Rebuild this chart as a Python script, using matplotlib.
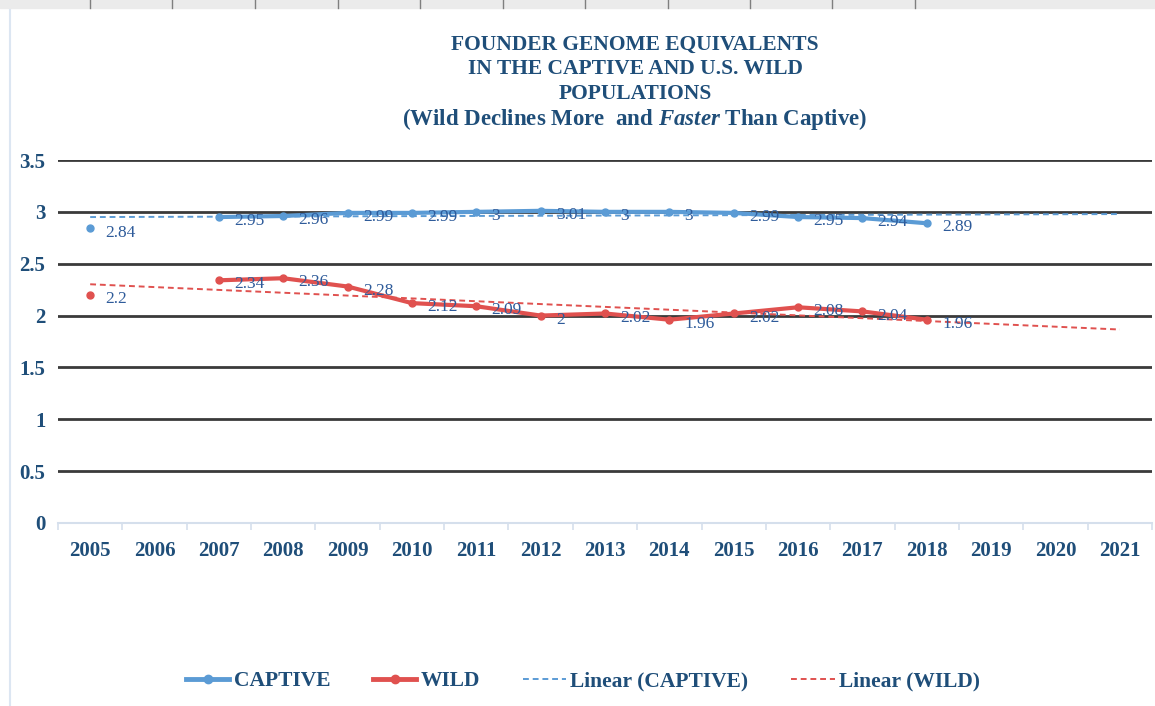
import numpy as np
import matplotlib
matplotlib.use('Agg')
import matplotlib.pyplot as plt
from matplotlib.patches import Rectangle
from matplotlib.lines import Line2D

# data
years = ['2005', '2006', '2007', '2008', '2009', '2010', '2011', '2012', '2013',
         '2014', '2015', '2016', '2017', '2018', '2019', '2020', '2021']
captive = [2.84, np.nan, 2.95, 2.96, 2.99, 2.99, 3, 3.01, 3, 3, 2.99, 2.95, 2.94, 2.89,
           np.nan, np.nan, np.nan]
wild = [2.2, np.nan, 2.34, 2.36, 2.28, 2.12, 2.09, 2, 2.02, 1.96, 2.02, 2.08, 2.04, 1.96,
        np.nan, np.nan, np.nan]
captive_labels = ['2.84', '', '2.95', '2.96', '2.99', '2.99', '3', '3.01', '3', '3', '2.99',
                  '2.95', '2.94', '2.89']
wild_labels = ['2.2', '', '2.34', '2.36', '2.28', '2.12', '2.09', '2', '2.02', '1.96',
               '2.02', '2.08', '2.04', '1.96']

blue = '#5B9BD5'
red = '#E0514F'
txt = '#1F4E79'
lab = '#2E5B9A'
serif = ['Liberation Serif', 'DejaVu Serif']

plt.rcParams['mathtext.fontset'] = 'custom'
plt.rcParams['mathtext.rm'] = 'Liberation Serif:bold'
plt.rcParams['mathtext.it'] = 'Liberation Serif:italic:bold'
plt.rcParams['mathtext.bf'] = 'Liberation Serif:bold'

fig = plt.figure(figsize=(11.55, 7.06), dpi=100)
ax = fig.add_axes([58 / 1155, 1 - 523 / 706, 1094 / 1155, 363 / 706])

x = np.arange(len(years))
cap = np.array(captive)
wld = np.array(wild)

# Excel-style linear trendlines over the full category range
for arr, col in [(cap, blue), (wld, red)]:
    ok = ~np.isnan(arr)
    k, b = np.polyfit(x[ok], arr[ok], 1)
    ax.plot(x, k * x + b, ls=(0, (3, 2)), color=col, lw=1.4, zorder=3)

# series (2006 missing, so the first point stands alone)
ax.plot(x, cap, color=blue, lw=3, marker='o', ms=5, zorder=4)
ax.plot(x, wld, color=red, lw=3, marker='o', ms=5, zorder=4)

for i, s in enumerate(captive_labels):
    if s:
        ax.annotate(s, (x[i], cap[i]), xytext=(11, -3), textcoords='offset points',
                    ha='left', va='center', fontsize=12.5, color=lab, family=serif, zorder=5)
for i, s in enumerate(wild_labels):
    if s:
        ax.annotate(s, (x[i], wld[i]), xytext=(11, -3), textcoords='offset points',
                    ha='left', va='center', fontsize=12.5, color=lab, family=serif, zorder=5)

ax.set_xlim(-0.5, 16.5)
ax.set_ylim(0, 3.5)
ax.set_yticks(np.arange(0, 3.51, 0.5))
ax.set_yticklabels(['0', '0.5', '1', '1.5', '2', '2.5', '3', '3.5'])
ax.set_xticks(x)
ax.set_xticklabels(years)
ax.set_xticks(np.arange(-0.5, 17, 1), minor=True)
for t in ax.get_yticklabels() + ax.get_xticklabels():
    t.set_family(serif)
    t.set_fontweight('bold')
    t.set_color(txt)
    t.set_fontsize(15)
ax.tick_params(axis='y', length=0, pad=9)
ax.tick_params(axis='x', which='major', length=0, pad=13)
ax.tick_params(axis='x', which='minor', length=5, color='#D5DFEC', width=1.2)
ax.grid(axis='y', color='#3A3A3A', lw=2)
for g in ax.get_ygridlines()[:1]:
    g.set_visible(False)
ax.set_axisbelow(True)
for sp in ['top', 'right', 'left']:
    ax.spines[sp].set_visible(False)
ax.spines['bottom'].set_color('#D5DFEC')
ax.spines['bottom'].set_linewidth(1.5)

# title
title = [(45, 'FOUNDER GENOME EQUIVALENTS'), (69, 'IN THE CAPTIVE AND U.S. WILD'),
         (94, 'POPULATIONS')]
for yy, s in title:
    fig.text(635 / 1155, 1 - yy / 706, s, ha='center', va='center', fontsize=15.5,
             fontweight='bold', color=txt, family=serif)
fig.text(635 / 1155, 1 - 119 / 706,
         r'(Wild Declines More  and $\mathit{Faster}$ Than Captive)',
         ha='center', va='center', fontsize=16.5, fontweight='bold', color=txt,
         family=serif, math_fontfamily='custom')

# legend
handles = [Line2D([], [], color=blue, lw=3.5, marker='o', ms=6),
           Line2D([], [], color=red, lw=3.5, marker='o', ms=6),
           Line2D([], [], color=blue, lw=1.4, ls=(0, (3, 2))),
           Line2D([], [], color=red, lw=1.4, ls=(0, (3, 2)))]
leg = fig.legend(handles, ['CAPTIVE', 'WILD', 'Linear (CAPTIVE)', 'Linear (WILD)'],
                 loc='center', bbox_to_anchor=(583 / 1155, 1 - 681 / 706), ncol=4,
                 frameon=False, handlelength=2.0, handletextpad=0.2, columnspacing=2.0,
                 prop={'size': 15.5})
for t in leg.get_texts():
    t.set_color(txt)
    t.set_family(serif)
    t.set_fontweight('bold')

# window frame bits
fig.patches.append(Rectangle((0, 1 - 8 / 706), 1, 8 / 706, transform=fig.transFigure,
                             color='#EBEBEB', zorder=0))
for tx in [90, 172, 255, 338, 420, 503, 585, 668, 750, 832, 915]:
    fig.lines.append(Line2D([tx / 1155] * 2, [1 - 8 / 706, 1], transform=fig.transFigure,
                            color='#7F7F7F', lw=1))
fig.lines.append(Line2D([10 / 1155] * 2, [0, 1 - 10 / 706], transform=fig.transFigure,
                        color='#DCE6F2', lw=1.5))

fig.savefig('out.png', dpi=100)
